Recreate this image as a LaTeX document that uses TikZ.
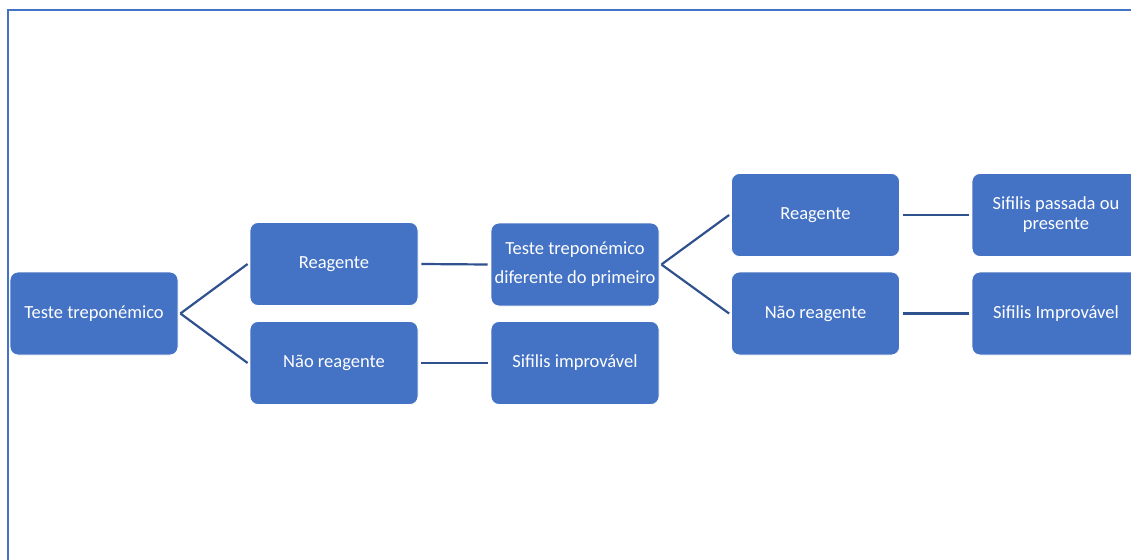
\documentclass[tikz,border=0pt]{standalone}
\usepackage{fontspec}
\setmainfont{Carlito}
\definecolor{boxblue}{HTML}{4472C4}
\definecolor{linkblue}{HTML}{2F528F}
\begin{document}
\begin{tikzpicture}[x=1pt,y=-1pt,
  box/.style={rectangle, rounded corners=8pt, fill=boxblue, draw=white,
    line width=0.8pt, minimum width=168pt, minimum height=83pt,
    text=white, font=\fontsize{18.5}{20}\selectfont, align=center, inner sep=0pt},
  link/.style={draw=linkblue, line width=2.2pt}]
\useasboundingbox (0,0) rectangle (1131,559);
\clip (0,0) rectangle (1131,559);
% outer frame
\draw[boxblue, line width=2pt] (8,10) rectangle (1145,575);
% boxes
\node[box] (t1) at (94,313.5) {Teste treponémico};
\node[box] (r1) at (334,264) {Reagente};
\node[box] (n1) at (334,363) {Não reagente};
\node[box, font=\fontsize{18.5}{29}\selectfont] (t2) at (575,264.5) {Teste treponémico\\diferente do primeiro};
\node[box] (s1) at (575,363) {Sifilis improvável};
\node[box] (r2) at (815.5,215) {Reagente};
\node[box] (n2) at (815.5,313.5) {Não reagente};
\node[box] (p2) at (1056,215) {Sifilis passada ou\\presente};
\node[box] (i2) at (1056,313.5) {Sifilis Improvável};
% connectors
\draw[link] ([xshift=2pt]t1.east) -- ([xshift=-2pt]r1.west);
\draw[link] ([xshift=2pt]t1.east) -- ([xshift=-2pt]n1.west);
\draw[link] ([xshift=3pt]r1.east) -- ([xshift=-3pt]t2.west);
\draw[link] ([xshift=3pt]n1.east) -- ([xshift=-3pt]s1.west);
\draw[link] ([xshift=2pt]t2.east) -- ([xshift=-2pt]r2.west);
\draw[link] ([xshift=2pt]t2.east) -- ([xshift=-2pt]n2.west);
\draw[link] ([xshift=3pt]r2.east) -- ([xshift=-3pt]p2.west);
\draw[link] ([xshift=3pt]n2.east) -- ([xshift=-3pt]i2.west);
\end{tikzpicture}
\end{document}
